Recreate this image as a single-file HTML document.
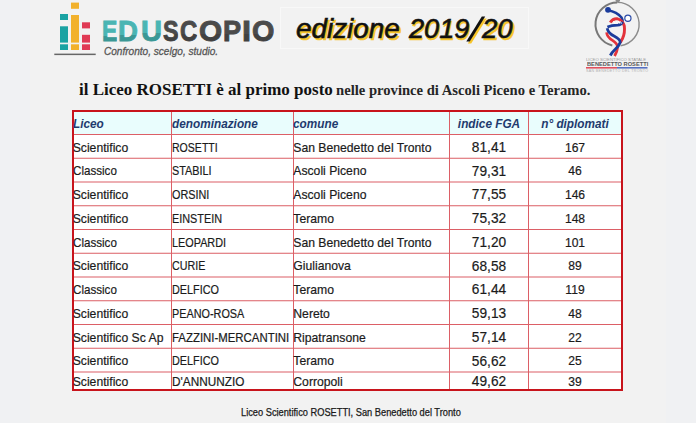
<!DOCTYPE html>
<html><head><meta charset="utf-8">
<style>
html,body{margin:0;padding:0;}
body{width:696px;height:423px;overflow:hidden;background:#f0f1f3;position:relative;font-family:"Liberation Sans",sans-serif;}
.a{position:absolute;white-space:nowrap;}
.ln{position:absolute;background:#dc5f66;}
.tx{position:absolute;white-space:nowrap;line-height:20px;height:20px;color:#1b1b1b;-webkit-text-stroke:0.2px #1b1b1b;}
.ctr{transform:translateX(-50%);}
.hd{font-weight:bold;font-style:italic;color:#1f3b6e;-webkit-text-stroke:0;}
.edl{font-size:29.5px;font-weight:bold;line-height:29.5px;height:29.5px;transform-origin:0 0;}
#tag{left:103.5px;top:45px;transform:scaleX(0.915);transform-origin:0 0;font-size:11px;font-style:italic;color:#565656;-webkit-text-stroke:0.3px #565656;}
#box{left:280px;top:7px;width:249px;height:42px;border:1px solid #f8f8f8;box-sizing:border-box;}
.ed{top:12px;transform-origin:0 0;font-size:28px;font-weight:normal;font-style:italic;color:#111;-webkit-text-stroke:0.6px #111;line-height:34px;}
.edy{color:#f7c52a;-webkit-text-stroke:0.6px #f7c52a;margin:2px 0 0 1.5px;}
#ed1,#ed1y{left:296px;transform:scaleX(0.994);}
#ed2,#ed2y{left:408.6px;transform:scaleX(0.97);}
#ed3,#ed3y{left:482.3px;transform:scaleX(0.985);}
#title{left:78.5px;top:78.7px;transform:scaleX(0.96);transform-origin:0 0;font-family:"Liberation Serif",serif;font-size:17.7px;font-weight:bold;color:#111;line-height:20px;}
#title2{left:336px;top:80.2px;transform:scaleX(0.975);transform-origin:0 0;font-family:"Liberation Serif",serif;font-size:15px;font-weight:bold;color:#262626;line-height:20px;}
.lg1{left:586px;top:56.5px;font-size:4.3px;line-height:5px;color:#9a9a9a;transform:scaleX(0.99);transform-origin:0 0;}
.lg2{left:586.5px;top:59.6px;font-size:6.2px;line-height:7px;font-weight:bold;color:#5a5a5a;transform:scaleX(0.92);transform-origin:0 0;}
.lg3{left:586px;top:69px;font-size:3.9px;line-height:4px;color:#b0b0b0;letter-spacing:0.35px;transform:scaleX(0.93);transform-origin:0 0;}
#foot{left:241px;top:407px;transform:scaleX(0.926);transform-origin:0 0;font-size:10px;color:#1a1a1a;-webkit-text-stroke:0.25px #1a1a1a;}
</style></head><body>

<div class="a" style="left:30px;top:0;width:635.5px;height:423px;background:#f2f2f2"></div>
<svg class="a" style="left:0;top:0" width="100" height="60" viewBox="0 0 100 60">
  <g fill="#1aa3a3"><rect x="60" y="14" width="8" height="6"/><rect x="60" y="26.3" width="8" height="16.3"/><rect x="60" y="44.3" width="8" height="5.7"/></g>
  <g fill="#f2b12c"><rect x="71" y="2.6" width="8" height="6.2"/><rect x="71" y="15" width="8" height="27.6"/><rect x="71" y="44.3" width="8" height="5.7"/></g>
  <g fill="#e03a55"><rect x="82" y="22.3" width="8" height="6.1"/><rect x="82" y="34.8" width="8" height="7.8"/><rect x="82" y="44.3" width="8" height="5.7"/></g>
  <rect x="54.3" y="53.6" width="41.4" height="1.5" fill="#666"/>
</svg>
<div class="a edl" style="left:101.76px;top:16.00px;transform:scaleX(0.7794);color:#4ab5b3;-webkit-text-stroke:0.9px #4ab5b3;clip-path:inset(0 0 9.50px 0)">E</div><div class="a edl" style="left:101.76px;top:16.00px;transform:scaleX(0.7794);color:#3b9895;-webkit-text-stroke:0.9px #3b9895;clip-path:inset(20.00px 0 -5px 0)">E</div><div class="a edl" style="left:118.16px;top:16.00px;transform:scaleX(0.9341);color:#4ab5b3;-webkit-text-stroke:0.9px #4ab5b3;clip-path:inset(0 0 10.50px 0)">D</div><div class="a edl" style="left:118.16px;top:16.00px;transform:scaleX(0.9341);color:#3b9895;-webkit-text-stroke:0.9px #3b9895;clip-path:inset(19.00px 0 -5px 0)">D</div><div class="a edl" style="left:140.95px;top:16.00px;transform:scaleX(0.9869);color:#4ab5b3;-webkit-text-stroke:0.9px #4ab5b3;clip-path:inset(0 0 12.50px 0)">U</div><div class="a edl" style="left:140.95px;top:16.00px;transform:scaleX(0.9869);color:#3b9895;-webkit-text-stroke:0.9px #3b9895;clip-path:inset(17.00px 0 -5px 0)">U</div><div class="a edl" style="left:163.23px;top:16.00px;transform:scaleX(0.7921);color:#4b4b4b;-webkit-text-stroke:0.9px #4b4b4b;clip-path:inset(0 0 11.50px 0)">S</div><div class="a edl" style="left:163.23px;top:16.00px;transform:scaleX(0.7921);color:#414141;-webkit-text-stroke:0.9px #414141;clip-path:inset(18.00px 0 -5px 0)">S</div><div class="a edl" style="left:180.32px;top:16.00px;transform:scaleX(0.8140);color:#4b4b4b;-webkit-text-stroke:0.9px #4b4b4b;clip-path:inset(0 0 11.50px 0)">C</div><div class="a edl" style="left:180.32px;top:16.00px;transform:scaleX(0.8140);color:#414141;-webkit-text-stroke:0.9px #414141;clip-path:inset(18.00px 0 -5px 0)">C</div><div class="a edl" style="left:199.28px;top:16.00px;transform:scaleX(1.0099);color:#4b4b4b;-webkit-text-stroke:0.9px #4b4b4b;clip-path:inset(0 0 11.50px 0)">O</div><div class="a edl" style="left:199.28px;top:16.00px;transform:scaleX(1.0099);color:#414141;-webkit-text-stroke:0.9px #414141;clip-path:inset(18.00px 0 -5px 0)">O</div><div class="a edl" style="left:223.28px;top:16.00px;transform:scaleX(0.9225);color:#4b4b4b;-webkit-text-stroke:0.9px #4b4b4b;clip-path:inset(0 0 11.50px 0)">P</div><div class="a edl" style="left:223.28px;top:16.00px;transform:scaleX(0.9225);color:#414141;-webkit-text-stroke:0.9px #414141;clip-path:inset(18.00px 0 -5px 0)">P</div><div class="a edl" style="left:241.72px;top:16.00px;transform:scaleX(1.1061);color:#4b4b4b;-webkit-text-stroke:0.9px #4b4b4b;clip-path:inset(0 0 11.50px 0)">I</div><div class="a edl" style="left:241.72px;top:16.00px;transform:scaleX(1.1061);color:#414141;-webkit-text-stroke:0.9px #414141;clip-path:inset(18.00px 0 -5px 0)">I</div><div class="a edl" style="left:252.42px;top:16.00px;transform:scaleX(0.9757);color:#4b4b4b;-webkit-text-stroke:0.9px #4b4b4b;clip-path:inset(0 0 11.50px 0)">O</div><div class="a edl" style="left:252.42px;top:16.00px;transform:scaleX(0.9757);color:#414141;-webkit-text-stroke:0.9px #414141;clip-path:inset(18.00px 0 -5px 0)">O</div>
<svg class="a" style="left:0;top:0" width="696" height="80" viewBox="0 0 696 80">
  <path d="M612.30,45.42 A21.8,21.8 0 0 1 617.3,2.4" fill="none" stroke="#787878" stroke-width="2"/><path d="M617.3,2.4 A21.8,21.8 0 0 1 620.60,45.75" fill="none" stroke="#8c8c8c" stroke-width="1.4"/>
  <ellipse cx="617.8" cy="0.6" rx="2.2" ry="1.6" fill="#8a8a8a"/>
  <circle cx="608" cy="9.8" r="2.9" fill="#1b3c9c"/>
  <path d="M608,10.3 Q617,12 621.5,17.5 Q623,20 622.5,23" fill="none" stroke="#1b3c9c" stroke-width="2.5"/>
  <circle cx="627.9" cy="18.3" r="3.1" fill="#fff" stroke="#2b4ba8" stroke-width="1.2"/>
  <path d="M610.2,22.5 Q613,18.3 617.5,18.8 Q622.5,19.8 624.3,26 Q625.2,33 622.5,38.5 L620.3,42.5" fill="none" stroke="#e3333b" stroke-width="2.9"/>
  <path d="M606.6,32.3 Q607,37 612.5,40.3 Q617.8,43.5 617.6,47.5 Q617.2,51.5 614.6,56" fill="none" stroke="#e3333b" stroke-width="2.7"/>
  <path d="M607.4,27 Q611.5,25.2 617.5,25.2 Q621,24.8 622.8,22" fill="none" stroke="#1b3c9c" stroke-width="2.8"/>
  <path d="M607.2,28.2 Q608,33 614,36 Q620.6,39.5 620.2,42.5 Q619,46 615.2,49.2 Q612,52.2 610.3,55.5" fill="none" stroke="#1b3c9c" stroke-width="2.8"/>
  <path d="M613.4,21.2 L615.4,24 M615.8,20.6 L617.8,23.8 M618.2,20.8 L620,23.8 M620.4,21.4 L621.6,23.6" stroke="#fff" stroke-width="0.9"/>
  <rect x="586" y="67" width="31" height="1.6" fill="#e0505e"/>
  <rect x="617" y="67" width="30.5" height="1.6" fill="#5570c0"/>
</svg>
<div class="a lg1">LICEO SCIENTIFICO STATALE</div>
<div class="a lg2">BENEDETTO ROSETTI</div>
<div class="a lg3">SAN BENEDETTO DEL TRONTO</div>
<div class="a" id="tag">Confronto, scelgo, studio.</div>
<div class="a" id="box"></div>
<div class="a ed edy" id="ed1y">edizione</div><div class="a ed edy" id="ed2y">2019</div><div class="a ed edy" id="ed3y">20</div><div class="a ed" id="ed1">edizione</div><div class="a ed" id="ed2">2019</div><div class="a ed" id="ed3">20</div><svg class="a" style="left:0;top:0" width="696" height="60" viewBox="0 0 696 60"><polygon points="467.8,43.5 471.2,43.5 486.7,18.5 483.3,18.5" fill="#f7c52a"/><polygon points="466.3,41.5 469.7,41.5 485.2,16.5 481.8,16.5" fill="#111"/></svg>
<div class="a" id="title">il Liceo ROSETTI è al primo posto</div>
<div class="a" id="title2">nelle province di Ascoli Piceno e Teramo.</div>

<div class="a" style="left:72px;top:110px;width:551px;height:281px;background:#fff"></div>
<div class="a" style="left:72px;top:110px;width:551px;height:24.0px;background:#e9fdfd"></div>
<svg class="a" style="left:0;top:0" width="696" height="423" viewBox="0 0 696 423"><rect x="72" y="134.00" width="551" height="1" fill="#dc5f66"/><rect x="72" y="157.75" width="551" height="1" fill="#dc5f66"/><rect x="72" y="181.50" width="551" height="1" fill="#dc5f66"/><rect x="72" y="205.25" width="551" height="1" fill="#dc5f66"/><rect x="72" y="229.00" width="551" height="1" fill="#dc5f66"/><rect x="72" y="252.75" width="551" height="1" fill="#dc5f66"/><rect x="72" y="276.50" width="551" height="1" fill="#dc5f66"/><rect x="72" y="300.25" width="551" height="1" fill="#dc5f66"/><rect x="72" y="324.00" width="551" height="1" fill="#dc5f66"/><rect x="72" y="347.75" width="551" height="1" fill="#dc5f66"/><rect x="72" y="371.50" width="551" height="1" fill="#dc5f66"/><rect x="171" y="110" width="1" height="281" fill="#dc5f66"/><rect x="293" y="110" width="1" height="281" fill="#dc5f66"/><rect x="449" y="110" width="1" height="281" fill="#dc5f66"/><rect x="528" y="110" width="1" height="281" fill="#dc5f66"/></svg>
<div class="a" style="left:72px;top:110px;width:551px;height:281px;border:2px solid #c8141c;box-sizing:border-box"></div>
<div class="tx hd" style="left:72.7px;top:113.80px;font-size:12.7px;transform:scaleX(0.93);transform-origin:0 0">Liceo</div>
<div class="tx hd" style="left:172px;top:113.80px;font-size:12.7px;transform:scaleX(0.93);transform-origin:0 0">denominazione</div>
<div class="tx hd" style="left:293.3px;top:113.80px;font-size:12.7px;transform:scaleX(0.93);transform-origin:0 0">comune</div>
<div class="tx hd ctr" style="left:489px;top:113.80px;font-size:12.7px;transform:translateX(-50%) scaleX(0.93)">indice FGA</div>
<div class="tx hd ctr" style="left:575px;top:113.80px;font-size:12.7px;transform:translateX(-50%) scaleX(0.93)">n° diplomati</div>
<div class="tx" style="left:72.7px;top:137.68px;font-size:12.2px">Scientifico</div>
<div class="tx" style="left:172px;top:137.68px;font-size:12.2px;transform:scaleX(0.865);transform-origin:0 0">ROSETTI</div>
<div class="tx" style="left:293.3px;top:137.68px;font-size:12.2px">San Benedetto del Tronto</div>
<div class="tx ctr" style="left:489px;top:136.98px;font-size:14.5px;transform:translateX(-50%) scaleX(0.945)">81,41</div>
<div class="tx ctr" style="left:575px;top:137.68px;font-size:12.1px">167</div>
<div class="tx" style="left:72.7px;top:161.43px;font-size:12.2px;transform:scaleX(0.953);transform-origin:0 0">Classico</div>
<div class="tx" style="left:172px;top:161.43px;font-size:12.2px;transform:scaleX(0.89);transform-origin:0 0">STABILI</div>
<div class="tx" style="left:293.3px;top:161.43px;font-size:12.2px">Ascoli Piceno</div>
<div class="tx ctr" style="left:489px;top:160.73px;font-size:14.5px;transform:translateX(-50%) scaleX(0.945)">79,31</div>
<div class="tx ctr" style="left:575px;top:161.43px;font-size:12.1px">46</div>
<div class="tx" style="left:72.7px;top:185.18px;font-size:12.2px">Scientifico</div>
<div class="tx" style="left:172px;top:185.18px;font-size:12.2px;transform:scaleX(0.89);transform-origin:0 0">ORSINI</div>
<div class="tx" style="left:293.3px;top:185.18px;font-size:12.2px">Ascoli Piceno</div>
<div class="tx ctr" style="left:489px;top:184.48px;font-size:14.5px;transform:translateX(-50%) scaleX(0.945)">77,55</div>
<div class="tx ctr" style="left:575px;top:185.18px;font-size:12.1px">146</div>
<div class="tx" style="left:72.7px;top:208.93px;font-size:12.2px">Scientifico</div>
<div class="tx" style="left:172px;top:208.93px;font-size:12.2px;transform:scaleX(0.89);transform-origin:0 0">EINSTEIN</div>
<div class="tx" style="left:293.3px;top:208.93px;font-size:12.2px">Teramo</div>
<div class="tx ctr" style="left:489px;top:208.23px;font-size:14.5px;transform:translateX(-50%) scaleX(0.945)">75,32</div>
<div class="tx ctr" style="left:575px;top:208.93px;font-size:12.1px">148</div>
<div class="tx" style="left:72.7px;top:232.68px;font-size:12.2px;transform:scaleX(0.953);transform-origin:0 0">Classico</div>
<div class="tx" style="left:172px;top:232.68px;font-size:12.2px;transform:scaleX(0.89);transform-origin:0 0">LEOPARDI</div>
<div class="tx" style="left:293.3px;top:232.68px;font-size:12.2px">San Benedetto del Tronto</div>
<div class="tx ctr" style="left:489px;top:231.98px;font-size:14.5px;transform:translateX(-50%) scaleX(0.945)">71,20</div>
<div class="tx ctr" style="left:575px;top:232.68px;font-size:12.1px">101</div>
<div class="tx" style="left:72.7px;top:256.43px;font-size:12.2px">Scientifico</div>
<div class="tx" style="left:172px;top:256.43px;font-size:12.2px;transform:scaleX(0.877);transform-origin:0 0">CURIE</div>
<div class="tx" style="left:293.3px;top:256.43px;font-size:12.2px">Giulianova</div>
<div class="tx ctr" style="left:489px;top:255.73px;font-size:14.5px;transform:translateX(-50%) scaleX(0.945)">68,58</div>
<div class="tx ctr" style="left:575px;top:256.43px;font-size:12.1px">89</div>
<div class="tx" style="left:72.7px;top:280.18px;font-size:12.2px;transform:scaleX(0.953);transform-origin:0 0">Classico</div>
<div class="tx" style="left:172px;top:280.18px;font-size:12.2px;transform:scaleX(0.89);transform-origin:0 0">DELFICO</div>
<div class="tx" style="left:293.3px;top:280.18px;font-size:12.2px">Teramo</div>
<div class="tx ctr" style="left:489px;top:279.48px;font-size:14.5px;transform:translateX(-50%) scaleX(0.945)">61,44</div>
<div class="tx ctr" style="left:575px;top:280.18px;font-size:12.1px">119</div>
<div class="tx" style="left:72.7px;top:303.93px;font-size:12.2px">Scientifico</div>
<div class="tx" style="left:172px;top:303.93px;font-size:12.2px;transform:scaleX(0.89);transform-origin:0 0">PEANO-ROSA</div>
<div class="tx" style="left:293.3px;top:303.93px;font-size:12.2px">Nereto</div>
<div class="tx ctr" style="left:489px;top:303.23px;font-size:14.5px;transform:translateX(-50%) scaleX(0.945)">59,13</div>
<div class="tx ctr" style="left:575px;top:303.93px;font-size:12.1px">48</div>
<div class="tx" style="left:72.7px;top:327.68px;font-size:12.2px">Scientifico Sc Ap</div>
<div class="tx" style="left:172px;top:327.68px;font-size:12.2px;transform:scaleX(0.936);transform-origin:0 0">FAZZINI-MERCANTINI</div>
<div class="tx" style="left:293.3px;top:327.68px;font-size:12.2px">Ripatransone</div>
<div class="tx ctr" style="left:489px;top:326.98px;font-size:14.5px;transform:translateX(-50%) scaleX(0.945)">57,14</div>
<div class="tx ctr" style="left:575px;top:327.68px;font-size:12.1px">22</div>
<div class="tx" style="left:72.7px;top:351.43px;font-size:12.2px">Scientifico</div>
<div class="tx" style="left:172px;top:351.43px;font-size:12.2px;transform:scaleX(0.89);transform-origin:0 0">DELFICO</div>
<div class="tx" style="left:293.3px;top:351.43px;font-size:12.2px">Teramo</div>
<div class="tx ctr" style="left:489px;top:350.73px;font-size:14.5px;transform:translateX(-50%) scaleX(0.945)">56,62</div>
<div class="tx ctr" style="left:575px;top:351.43px;font-size:12.1px">25</div>
<div class="tx" style="left:72.7px;top:372.05px;font-size:12.2px">Scientifico</div>
<div class="tx" style="left:172px;top:372.05px;font-size:12.2px;transform:scaleX(0.968);transform-origin:0 0">D'ANNUNZIO</div>
<div class="tx" style="left:293.3px;top:372.05px;font-size:12.2px">Corropoli</div>
<div class="tx ctr" style="left:489px;top:371.35px;font-size:14.5px;transform:translateX(-50%) scaleX(0.945)">49,62</div>
<div class="tx ctr" style="left:575px;top:372.05px;font-size:12.1px">39</div>
<div class="a" id="foot">Liceo Scientifico ROSETTI, San Benedetto del Tronto</div>
</body></html>
